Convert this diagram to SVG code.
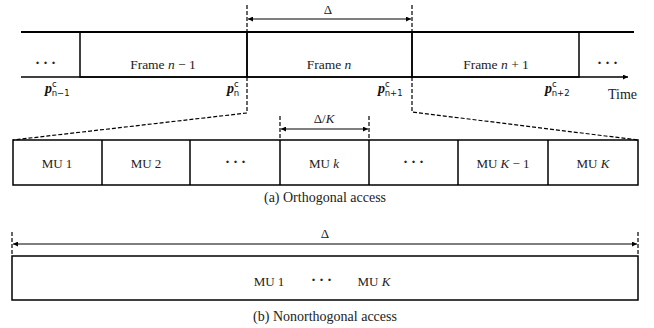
<svg xmlns="http://www.w3.org/2000/svg" width="654" height="328" viewBox="0 0 654 328">
<defs>
<marker id="ah" viewBox="0 0 6 6" refX="6" refY="3" markerWidth="5" markerHeight="5" orient="auto-start-reverse" markerUnits="userSpaceOnUse"><path d="M0,0 L6,3 L0,6 z" fill="#000"/></marker>
<style>
.t{font-family:"Liberation Serif","DejaVu Serif","Times New Roman",serif;font-size:13px;fill:#222;}
.f{font-family:"Liberation Serif","DejaVu Serif","Times New Roman",serif;font-size:13.5px;fill:#222;}
.s{font-family:"Liberation Serif","DejaVu Serif",serif;font-size:14px;fill:#222;}
.i{font-style:italic;}
.p{font-family:"Liberation Serif","DejaVu Serif",serif;font-size:14px;font-weight:bold;font-style:italic;fill:#111;}
.sub{font-family:"DejaVu Sans",sans-serif;font-size:8.5px;fill:#111;font-weight:normal;font-style:normal;}
.sol{stroke:#000;stroke-width:1.5;fill:none;}
.dash{stroke:#000;stroke-width:1.2;stroke-dasharray:4,2;fill:none;}
.arr{stroke:#000;stroke-width:1.2;fill:none;marker-start:url(#ah);marker-end:url(#ah);}
.dots{font-family:"Liberation Serif",serif;font-size:15px;font-weight:bold;fill:#222;letter-spacing:3px;}
</style>
</defs>

<g id="timeline">
<line x1="21" y1="32" x2="634" y2="32" stroke="#000" stroke-width="2.2"/>
<line x1="21" y1="77" x2="628" y2="77" stroke="#000" stroke-width="1.4" marker-end="url(#ah)"/>
<text class="s" x="608" y="99">Time</text>
</g>

<g id="frame-prev-dots"><text class="dots" x="47" y="68" text-anchor="middle">···</text></g>
<g id="frame-n-1"><rect class="sol" x="80" y="32" width="167" height="45"/><text class="f" x="163" y="69" text-anchor="middle">Frame <tspan class="i">n</tspan> − 1</text></g>
<g id="frame-n"><rect class="sol" x="247" y="32" width="165" height="45"/><text class="f" x="329" y="69" text-anchor="middle">Frame <tspan class="i">n</tspan></text></g>
<g id="frame-n+1"><rect class="sol" x="412" y="32" width="167" height="45"/><text class="f" x="496" y="69" text-anchor="middle">Frame <tspan class="i">n</tspan> + 1</text></g>
<g id="frame-next-dots"><text class="dots" x="609" y="68" text-anchor="middle">···</text></g>

<g id="p-labels">
<text class="p" x="45" y="93">p<tspan class="sub" dy="-6">c</tspan><tspan class="sub" dx="-5" dy="9">n−1</tspan></text>
<text class="p" x="227" y="93">p<tspan class="sub" dy="-6">c</tspan><tspan class="sub" dx="-5" dy="9">n</tspan></text>
<text class="p" x="378" y="93">p<tspan class="sub" dy="-6">c</tspan><tspan class="sub" dx="-5" dy="9">n+1</tspan></text>
<text class="p" x="545" y="93">p<tspan class="sub" dy="-6">c</tspan><tspan class="sub" dx="-5" dy="9">n+2</tspan></text>
</g>

<g id="mu-row">
<rect class="sol" x="13" y="140" width="625" height="45"/>
<line class="sol" x1="102" y1="140" x2="102" y2="185"/>
<line class="sol" x1="190" y1="140" x2="190" y2="185"/>
<line class="sol" x1="280" y1="140" x2="280" y2="185"/>
<line class="sol" x1="369" y1="140" x2="369" y2="185"/>
<line class="sol" x1="458" y1="140" x2="458" y2="185"/>
<line class="sol" x1="548" y1="140" x2="548" y2="185"/>
</g>
<g id="mu1"><text class="t" x="57" y="168" text-anchor="middle">MU 1</text></g>
<g id="mu2"><text class="t" x="146" y="168" text-anchor="middle">MU 2</text></g>
<g id="mu-dots1"><text class="dots" x="237" y="167" text-anchor="middle">···</text></g>
<g id="muk"><text class="t" x="324" y="168" text-anchor="middle">MU <tspan class="i">k</tspan></text></g>
<g id="mu-dots2"><text class="dots" x="415" y="167" text-anchor="middle">···</text></g>
<g id="muK-1"><text class="t" x="503" y="168" text-anchor="middle">MU <tspan class="i">K</tspan> − 1</text></g>
<g id="muK"><text class="t" x="593" y="168" text-anchor="middle">MU <tspan class="i">K</tspan></text></g>
<g id="caption-a"><text class="s" x="325" y="202" text-anchor="middle">(a) Orthogonal access</text></g>

<g id="nonorth">
<rect class="sol" x="12" y="256" width="626" height="44"/>
<text class="t" x="269" y="286" text-anchor="middle">MU 1</text>
<text class="dots" x="323" y="285" text-anchor="middle">···</text>
<text class="t" x="374" y="286" text-anchor="middle">MU <tspan class="i">K</tspan></text>
</g>
<g id="caption-b"><text class="s" x="325" y="321" text-anchor="middle">(b) Nonorthogonal access</text></g>

<g id="connectors">
<line class="dash" x1="247" y1="5" x2="247" y2="32"/>
<line class="dash" x1="412" y1="5" x2="412" y2="32"/>
<line class="arr" x1="248" y1="19" x2="411" y2="19"/>
<text class="t" x="328" y="14" text-anchor="middle">Δ</text>
<polyline class="dash" points="247,77 247,113 13,140"/>
<polyline class="dash" points="412,77 412,112 638,140"/>
<line class="dash" x1="280" y1="116" x2="280" y2="140"/>
<line class="dash" x1="369" y1="116" x2="369" y2="140"/>
<line class="arr" x1="281" y1="129" x2="368" y2="129"/>
<text class="t" x="324" y="123" text-anchor="middle">Δ/<tspan class="i">K</tspan></text>
<line class="dash" x1="12" y1="232" x2="12" y2="256"/>
<line class="dash" x1="638" y1="232" x2="638" y2="256"/>
<line class="arr" x1="13" y1="244" x2="637" y2="244"/>
<text class="t" x="325" y="238" text-anchor="middle">Δ</text>
</g>
</svg>
